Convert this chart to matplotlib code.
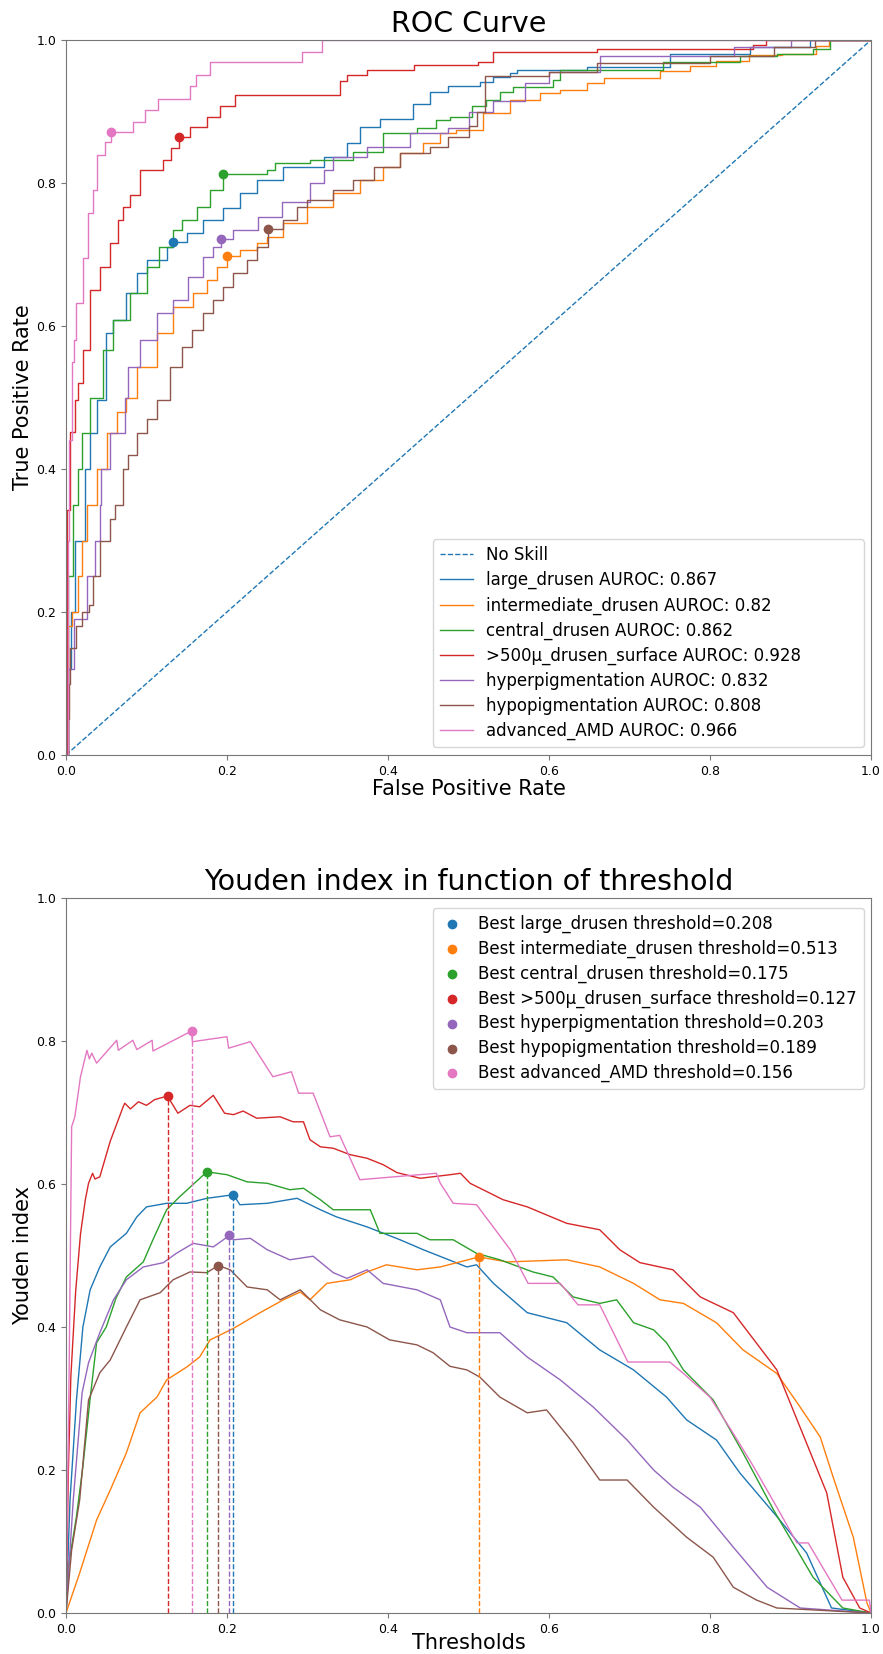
import matplotlib
matplotlib.use('Agg')
import matplotlib.pyplot as plt

# ---------------- data ----------------
names = ['large_drusen', 'intermediate_drusen', 'central_drusen',
         '>500µ_drusen_surface', 'hyperpigmentation', 'hypopigmentation',
         'advanced_AMD']
aurocs = ['0.867', '0.82', '0.862', '0.928', '0.832', '0.808', '0.966']
best_thresholds = [0.208, 0.513, 0.175, 0.127, 0.203, 0.189, 0.156]
best_youden = [0.585, 0.498, 0.617, 0.723, 0.528, 0.486, 0.814]
best_fpr = [0.133, 0.200, 0.195, 0.140, 0.193, 0.251, 0.056]
best_tpr = [0.718, 0.698, 0.812, 0.865, 0.721, 0.735, 0.871]

# ROC curves as (FPR, TPR) corner points
roc_large = [(0, 0), (0.002, 0.12), (0.006, 0.2), (0.011, 0.3), (0.024, 0.4), (0.030, 0.45),
             (0.038, 0.497), (0.050, 0.59), (0.059, 0.608), (0.075, 0.646), (0.088, 0.674),
             (0.100, 0.692), (0.125, 0.711), (0.133, 0.718), (0.150, 0.73), (0.170, 0.748),
             (0.195, 0.765), (0.216, 0.786), (0.237, 0.804), (0.270, 0.823), (0.320, 0.837),
             (0.349, 0.856), (0.365, 0.879), (0.390, 0.89), (0.431, 0.911), (0.452, 0.927),
             (0.475, 0.935), (0.514, 0.941), (0.531, 0.948), (0.552, 0.954), (0.560, 0.958),
             (0.647, 0.962), (0.750, 0.98), (0.850, 0.99), (0.924, 1.0), (1.0, 1.0)]
roc_intermediate = [(0, 0), (0.002, 0.1), (0.003, 0.18), (0.007, 0.2), (0.015, 0.25), (0.020, 0.3),
                    (0.026, 0.35), (0.038, 0.4), (0.051, 0.45), (0.063, 0.48), (0.075, 0.5),
                    (0.088, 0.543), (0.113, 0.59), (0.133, 0.627), (0.158, 0.646), (0.175, 0.664),
                    (0.187, 0.683), (0.200, 0.698), (0.216, 0.706), (0.237, 0.716), (0.250, 0.725),
                    (0.270, 0.744), (0.299, 0.767), (0.332, 0.786), (0.365, 0.804), (0.394, 0.823),
                    (0.415, 0.842), (0.444, 0.856), (0.465, 0.87), (0.485, 0.874), (0.518, 0.898),
                    (0.551, 0.916), (0.589, 0.926), (0.614, 0.93), (0.647, 0.94), (0.668, 0.947),
                    (0.738, 0.956), (0.775, 0.963), (0.808, 0.97), (0.849, 0.979), (0.890, 0.981),
                    (0.932, 0.991), (0.948, 1.0), (1.0, 1.0)]
roc_central = [(0, 0), (0.002, 0.15), (0.003, 0.25), (0.009, 0.35), (0.015, 0.4), (0.020, 0.45),
               (0.030, 0.5), (0.046, 0.566), (0.059, 0.608), (0.080, 0.646), (0.100, 0.683),
               (0.115, 0.711), (0.133, 0.734), (0.144, 0.748), (0.163, 0.767), (0.179, 0.79),
               (0.195, 0.812), (0.250, 0.818), (0.260, 0.828), (0.303, 0.832), (0.357, 0.843),
               (0.394, 0.87), (0.436, 0.877), (0.460, 0.888), (0.477, 0.893), (0.504, 0.907),
               (0.522, 0.916), (0.539, 0.927), (0.555, 0.934), (0.605, 0.944), (0.614, 0.958),
               (0.742, 0.969), (0.837, 0.977), (0.883, 0.98), (0.928, 0.987), (0.949, 1.0),
               (1.0, 1.0)]
roc_500 = [(0, 0), (0.001, 0.343), (0.005, 0.452), (0.011, 0.497), (0.015, 0.52), (0.021, 0.566),
           (0.030, 0.65), (0.042, 0.683), (0.055, 0.716), (0.065, 0.748), (0.071, 0.767),
           (0.080, 0.783), (0.092, 0.818), (0.120, 0.832), (0.131, 0.849), (0.140, 0.865),
           (0.154, 0.879), (0.175, 0.893), (0.191, 0.907), (0.210, 0.923), (0.340, 0.942),
           (0.349, 0.951), (0.374, 0.958), (0.432, 0.965), (0.512, 0.969), (0.531, 0.983),
           (0.660, 0.988), (0.853, 0.993), (0.870, 1.0), (1.0, 1.0)]
roc_hyper = [(0, 0), (0.003, 0.12), (0.010, 0.19), (0.026, 0.25), (0.036, 0.3), (0.042, 0.35),
             (0.044, 0.4), (0.055, 0.45), (0.073, 0.5), (0.077, 0.543), (0.092, 0.58),
             (0.113, 0.618), (0.133, 0.636), (0.152, 0.669), (0.170, 0.697), (0.183, 0.711),
             (0.193, 0.721), (0.208, 0.734), (0.239, 0.753), (0.268, 0.774), (0.303, 0.8),
             (0.320, 0.818), (0.332, 0.837), (0.374, 0.85), (0.427, 0.87), (0.475, 0.877),
             (0.500, 0.9), (0.530, 0.915), (0.570, 0.94), (0.600, 0.955), (0.663, 0.978),
             (0.830, 0.99), (0.900, 1.0), (1.0, 1.0)]
roc_hypo = [(0, 0), (0.002, 0.05), (0.004, 0.10), (0.005, 0.15), (0.013, 0.18), (0.020, 0.20),
            (0.028, 0.21), (0.034, 0.25), (0.042, 0.30), (0.055, 0.33), (0.061, 0.35),
            (0.071, 0.40), (0.077, 0.42), (0.088, 0.45), (0.100, 0.47), (0.113, 0.497),
            (0.129, 0.543), (0.144, 0.571), (0.156, 0.594), (0.170, 0.618), (0.183, 0.636),
            (0.195, 0.655), (0.208, 0.674), (0.225, 0.692), (0.237, 0.711), (0.251, 0.735),
            (0.270, 0.748), (0.287, 0.767), (0.299, 0.776), (0.332, 0.79), (0.357, 0.804),
            (0.382, 0.823), (0.415, 0.842), (0.452, 0.85), (0.475, 0.865), (0.500, 0.88),
            (0.510, 0.90), (0.520, 0.95), (0.600, 0.955), (0.660, 0.968), (0.800, 0.978),
            (0.880, 0.99), (0.930, 1.0), (1.0, 1.0)]
roc_advanced = [(0, 0), (0.002, 0.30), (0.004, 0.44), (0.007, 0.55), (0.010, 0.58), (0.013, 0.632),
                (0.021, 0.695), (0.027, 0.758), (0.033, 0.79), (0.039, 0.839), (0.048, 0.857),
                (0.056, 0.871), (0.083, 0.886), (0.098, 0.902), (0.114, 0.918), (0.154, 0.935),
                (0.162, 0.951), (0.179, 0.969), (0.293, 0.983), (0.318, 1.0), (1.0, 1.0)]
roc_curves = [roc_large, roc_intermediate, roc_central, roc_500, roc_hyper, roc_hypo, roc_advanced]

# Youden index vs threshold as (threshold, J) points
yd_large = [(0, 0), (0.005, 0.158), (0.013, 0.298), (0.021, 0.4), (0.030, 0.452), (0.042, 0.484),
            (0.055, 0.512), (0.075, 0.531), (0.088, 0.554), (0.100, 0.568), (0.125, 0.573),
            (0.150, 0.573), (0.175, 0.58), (0.208, 0.585), (0.216, 0.571), (0.250, 0.573),
            (0.287, 0.58), (0.316, 0.564), (0.336, 0.554), (0.374, 0.54), (0.415, 0.522),
            (0.444, 0.508), (0.498, 0.484), (0.510, 0.487), (0.531, 0.461), (0.573, 0.42),
            (0.622, 0.406), (0.663, 0.368), (0.705, 0.34), (0.746, 0.302), (0.771, 0.27),
            (0.808, 0.242), (0.837, 0.196), (0.883, 0.135), (0.920, 0.084), (0.951, 0.007),
            (1.0, 0.0)]
yd_intermediate = [(0, 0), (0.017, 0.056), (0.038, 0.13), (0.055, 0.172), (0.075, 0.224),
                   (0.092, 0.28), (0.113, 0.302), (0.125, 0.326), (0.150, 0.344), (0.166, 0.358),
                   (0.179, 0.382), (0.208, 0.398), (0.241, 0.42), (0.270, 0.438), (0.291, 0.449),
                   (0.303, 0.438), (0.324, 0.461), (0.353, 0.466), (0.374, 0.477), (0.398, 0.487),
                   (0.436, 0.48), (0.465, 0.484), (0.513, 0.498), (0.548, 0.491), (0.622, 0.494),
                   (0.663, 0.484), (0.705, 0.461), (0.738, 0.438), (0.767, 0.433), (0.808, 0.406),
                   (0.841, 0.368), (0.883, 0.335), (0.912, 0.288), (0.937, 0.246), (0.953, 0.19),
                   (0.978, 0.106), (0.995, 0.014), (1.0, 0.0)]
yd_central = [(0, 0), (0.003, 0.065), (0.013, 0.135), (0.021, 0.205), (0.030, 0.3), (0.038, 0.378),
              (0.050, 0.4), (0.062, 0.44), (0.075, 0.47), (0.096, 0.491), (0.108, 0.522),
              (0.125, 0.564), (0.141, 0.582), (0.175, 0.617), (0.200, 0.613), (0.225, 0.603),
              (0.250, 0.601), (0.278, 0.592), (0.295, 0.594), (0.316, 0.578), (0.332, 0.564),
              (0.378, 0.564), (0.390, 0.531), (0.436, 0.531), (0.452, 0.522), (0.481, 0.522),
              (0.510, 0.503), (0.539, 0.494), (0.580, 0.477), (0.605, 0.47), (0.630, 0.442),
              (0.663, 0.433), (0.684, 0.438), (0.705, 0.406), (0.730, 0.396), (0.746, 0.378),
              (0.767, 0.34), (0.804, 0.298), (0.841, 0.224), (0.879, 0.144), (0.928, 0.05),
              (0.965, 0.007), (1.0, 0.0)]
yd_500 = [(0, 0), (0.003, 0.2), (0.006, 0.33), (0.012, 0.45), (0.018, 0.53), (0.024, 0.578),
          (0.028, 0.601), (0.033, 0.615), (0.036, 0.607), (0.042, 0.61), (0.055, 0.66),
          (0.071, 0.708), (0.073, 0.713), (0.080, 0.705), (0.090, 0.715), (0.100, 0.71),
          (0.110, 0.718), (0.126, 0.723), (0.139, 0.699), (0.154, 0.71), (0.166, 0.708),
          (0.183, 0.724), (0.197, 0.699), (0.208, 0.697), (0.220, 0.702), (0.237, 0.692),
          (0.266, 0.694), (0.282, 0.687), (0.295, 0.687), (0.303, 0.662), (0.316, 0.652),
          (0.332, 0.65), (0.353, 0.641), (0.374, 0.636), (0.394, 0.627), (0.411, 0.616),
          (0.440, 0.608), (0.477, 0.613), (0.490, 0.615), (0.502, 0.601), (0.527, 0.587),
          (0.543, 0.578), (0.573, 0.568), (0.622, 0.545), (0.663, 0.536), (0.688, 0.508),
          (0.713, 0.49), (0.754, 0.48), (0.788, 0.442), (0.829, 0.42), (0.883, 0.34),
          (0.945, 0.168), (0.965, 0.05), (0.986, 0.007), (1.0, 0.0)]
yd_hyper = [(0, 0), (0.009, 0.158), (0.020, 0.308), (0.028, 0.35), (0.042, 0.392), (0.059, 0.438),
            (0.075, 0.466), (0.096, 0.484), (0.121, 0.49), (0.137, 0.503), (0.158, 0.517),
            (0.183, 0.512), (0.203, 0.528), (0.208, 0.522), (0.229, 0.524), (0.250, 0.508),
            (0.278, 0.494), (0.307, 0.499), (0.332, 0.476), (0.349, 0.468), (0.374, 0.48),
            (0.394, 0.461), (0.436, 0.452), (0.465, 0.438), (0.477, 0.4), (0.498, 0.392),
            (0.539, 0.392), (0.573, 0.358), (0.614, 0.326), (0.655, 0.288), (0.697, 0.242),
            (0.730, 0.2), (0.754, 0.176), (0.788, 0.148), (0.829, 0.092), (0.871, 0.036),
            (0.912, 0.007), (1.0, 0.0)]
yd_hypo = [(0, 0), (0.007, 0.088), (0.017, 0.158), (0.028, 0.298), (0.042, 0.336), (0.055, 0.354),
           (0.075, 0.4), (0.092, 0.438), (0.117, 0.448), (0.133, 0.466), (0.154, 0.477),
           (0.175, 0.476), (0.189, 0.486), (0.204, 0.48), (0.225, 0.456), (0.250, 0.452),
           (0.266, 0.438), (0.291, 0.452), (0.316, 0.424), (0.340, 0.41), (0.374, 0.4),
           (0.402, 0.382), (0.436, 0.375), (0.456, 0.364), (0.477, 0.345), (0.498, 0.34),
           (0.514, 0.33), (0.539, 0.302), (0.573, 0.28), (0.597, 0.284), (0.630, 0.238),
           (0.663, 0.186), (0.697, 0.186), (0.730, 0.148), (0.771, 0.106), (0.804, 0.078),
           (0.829, 0.036), (0.858, 0.018), (0.883, 0.007), (1.0, 0.0)]
yd_advanced = [(0, 0), (0.004, 0.35), (0.007, 0.68), (0.011, 0.694), (0.018, 0.75), (0.026, 0.787),
               (0.029, 0.775), (0.032, 0.783), (0.038, 0.769), (0.063, 0.801), (0.065, 0.787),
               (0.083, 0.801), (0.088, 0.788), (0.107, 0.801), (0.108, 0.786), (0.156, 0.814),
               (0.157, 0.799), (0.200, 0.806), (0.202, 0.79), (0.229, 0.799), (0.257, 0.75),
               (0.280, 0.757), (0.289, 0.727), (0.307, 0.727), (0.328, 0.666), (0.340, 0.668),
               (0.365, 0.606), (0.460, 0.615), (0.465, 0.601), (0.481, 0.573), (0.510, 0.571),
               (0.552, 0.508), (0.574, 0.461), (0.614, 0.461), (0.636, 0.431), (0.663, 0.431),
               (0.698, 0.351), (0.750, 0.351), (0.767, 0.335), (0.800, 0.302), (0.829, 0.251),
               (0.854, 0.205), (0.883, 0.148), (0.908, 0.098), (0.922, 0.098), (0.964, 0.018),
               (0.998, 0.018), (1.0, 0.0)]
youden_curves = [yd_large, yd_intermediate, yd_central, yd_500, yd_hyper, yd_hypo, yd_advanced]

colors = ['C0', 'C1', 'C2', 'C3', 'C4', 'C5', 'C6']

# ---------------- figure ----------------
W, H = 883, 1654
fig = plt.figure(figsize=(W / 100, H / 100), dpi=100)
ax1 = fig.add_axes([66 / W, 1 - 755 / H, 805 / W, 715 / H])
ax2 = fig.add_axes([66 / W, 1 - 1613 / H, 805 / W, 715 / H])

spine_col = '#777777'
LW = 1.0

# ROC
ax1.plot([0, 1], [0, 1], linestyle='--', color='C0', lw=LW, label='No Skill')
for pts, name, auc, c in zip(roc_curves, names, aurocs, colors):
    xs = [p[0] for p in pts]
    ys = [p[1] for p in pts]
    ax1.plot(xs, ys, drawstyle='steps-post', color=c, lw=LW,
             label=f'{name} AUROC: {auc}')
for fx, ty, c in zip(best_fpr, best_tpr, colors):
    ax1.scatter([fx], [ty], color=c, s=36, zorder=5)
ax1.set_xlim(0, 1)
ax1.set_ylim(0, 1)
ax1.set_title('ROC Curve', fontsize=20.5)
ax1.set_xlabel('False Positive Rate', fontsize=15, labelpad=1)
ax1.set_ylabel('True Positive Rate', fontsize=15, labelpad=2)
ax1.legend(loc='lower left', bbox_to_anchor=(0.456, 0.011, 0.535, 0.3), mode='expand',
           borderaxespad=0, fontsize=12, labelspacing=0.42)

# Youden
for pts, c in zip(youden_curves, colors):
    xs = [p[0] for p in pts]
    ys = [p[1] for p in pts]
    ax2.plot(xs, ys, color=c, lw=LW)
for name, thr, j, c in zip(names, best_thresholds, best_youden, colors):
    ax2.scatter([thr], [j], color=c, s=36, zorder=5,
                label=f'Best {name} threshold={thr:.3f}')
    ax2.plot([thr, thr], [0, j], linestyle='--', color=c, lw=LW)
ax2.set_xlim(0, 1)
ax2.set_ylim(0, 1)
ax2.set_title('Youden index in function of threshold', fontsize=20.5)
ax2.set_xlabel('Thresholds', fontsize=15, labelpad=-2)
ax2.set_ylabel('Youden index', fontsize=15, labelpad=2)
ax2.legend(loc='upper left', bbox_to_anchor=(0.456, 0.0, 0.535, 0.986), mode='expand',
           borderaxespad=0, fontsize=12, labelspacing=0.4, handlelength=1.5)

for ax in (ax1, ax2):
    for s in ax.spines.values():
        s.set_color(spine_col)
    ax.tick_params(labelsize=9, color=spine_col)

fig.savefig('out.png', dpi=100)
